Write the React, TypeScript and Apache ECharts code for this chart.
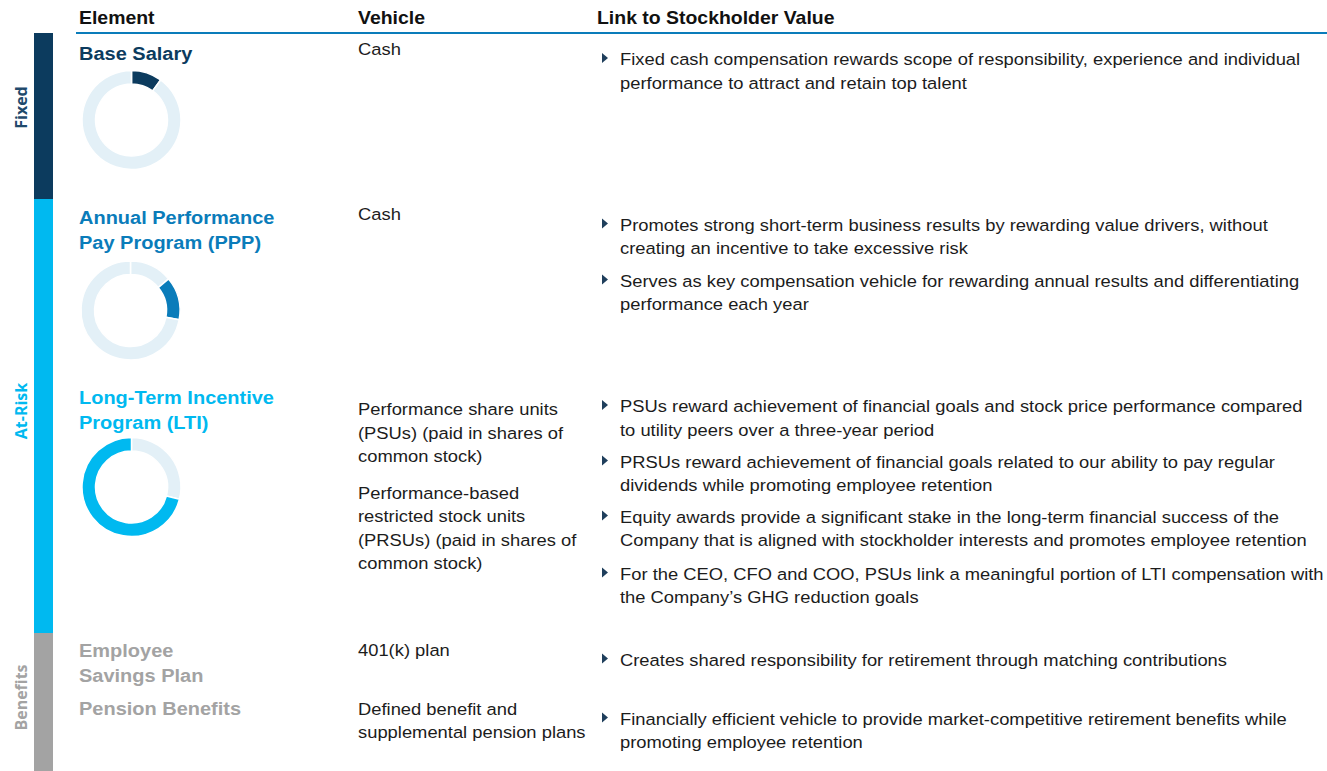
import React, { useEffect, useRef } from "react";
import * as echarts from "echarts";

// ---------- content ----------
const headers = ["Element", "Vehicle", "Link to Stockholder Value"];
const groupLabels = ["Fixed", "At-Risk", "Benefits"];

const elementNames = [
  ["Base Salary"],
  ["Annual Performance", "Pay Program (PPP)"],
  ["Long-Term Incentive", "Program (LTI)"],
  ["Employee", "Savings Plan"],
  ["Pension Benefits"],
];

const vehicles = [
  ["Cash"],
  ["Cash"],
  ["Performance share units", "(PSUs) (paid in shares of", "common stock)"],
  ["Performance-based", "restricted stock units", "(PRSUs) (paid in shares of", "common stock)"],
  ["401(k) plan"],
  ["Defined benefit and", "supplemental pension plans"],
];

const links = [
  ["Fixed cash compensation rewards scope of responsibility, experience and individual", "performance to attract and retain top talent"],
  ["Promotes strong short-term business results by rewarding value drivers, without", "creating an incentive to take excessive risk"],
  ["Serves as key compensation vehicle for rewarding annual results and differentiating", "performance each year"],
  ["PSUs reward achievement of financial goals and stock price performance compared", "to utility peers over a three-year period"],
  ["PRSUs reward achievement of financial goals related to our ability to pay regular", "dividends while promoting employee retention"],
  ["Equity awards provide a significant stake in the long-term financial success of the", "Company that is aligned with stockholder interests and promotes employee retention"],
  ["For the CEO, CFO and COO, PSUs link a meaningful portion of LTI compensation with", "the Company\u2019s GHG reduction goals"],
  ["Creates shared responsibility for retirement through matching contributions"],
  ["Financially efficient vehicle to provide market-competitive retirement benefits while", "promoting employee retention"],
];

// pay-mix donuts (percent of ring)
const baseSalaryMix = [10, 90]; // base salary, rest
const annualPppMix = [14, 14, 72]; // base, PPP, rest
const ltiMix = [29, 71]; // rest, LTI

// ---------- styles / layout ----------
const NAVY = "#0c3b5e";
const BLUE = "#0a7cba";
const CYAN = "#00b9f0";
const GRAY = "#a3a3a3";
const LIGHT = "#e3f0f7";
const TEXT = "#1c1c1c";
const BULLET = "#1f3f5c";
const FONT = "'Liberation Sans', Arial, sans-serif";
const SX = 1.08;

const elementColors = [NAVY, BLUE, CYAN, GRAY, GRAY];
const elementY = [53.5, 218, 398, 651, 709];
const vehicleY = [49, 214, 409.5, 493, 650, 709];
const linkY = [59.5, 225, 281, 406.5, 462, 517, 574, 660, 719];
const BODY_LH = 23.5;
const TITLE_LH = 24.5;

function txt(s: string, x: number, y: number, size: number, weight: string, color: string) {
  return {
    type: "text",
    x,
    y,
    scaleX: SX,
    silent: true,
    style: {
      text: s,
      fill: color,
      fontSize: size,
      fontWeight: weight,
      fontFamily: FONT,
      align: "left",
      textAlign: "left",
      verticalAlign: "middle",
      textVerticalAlign: "middle",
    },
  };
}

function buildGraphics() {
  const g: any[] = [];
  // side bars
  g.push({ type: "rect", silent: true, shape: { x: 34, y: 33, width: 19, height: 166 }, style: { fill: NAVY } });
  g.push({ type: "rect", silent: true, shape: { x: 34, y: 199, width: 19, height: 434 }, style: { fill: CYAN } });
  g.push({ type: "rect", silent: true, shape: { x: 34, y: 633, width: 19, height: 138 }, style: { fill: GRAY } });
  // group labels (rotated)
  const groupY = [107.5, 411, 697.5];
  const groupColors = ["#1f4a6c", CYAN, GRAY];
  groupLabels.forEach((s, i) => {
    g.push({
      type: "text",
      x: 21,
      y: groupY[i],
      rotation: Math.PI / 2,
      silent: true,
      style: {
        text: s,
        fill: groupColors[i],
        fontSize: 16,
        fontWeight: "bold",
        fontFamily: "'Open Sans', sans-serif",
        align: "center",
        textAlign: "center",
        verticalAlign: "middle",
        textVerticalAlign: "middle",
      },
    });
  });
  // header
  const headerX = [79, 358, 597];
  headers.forEach((h, i) => g.push(txt(h, headerX[i], 17.5, 18, "bold", "#111")));
  g.push({ type: "rect", silent: true, shape: { x: 76, y: 32, width: 1251, height: 2 }, style: { fill: BLUE } });
  // element names
  elementNames.forEach((lines, i) => {
    lines.forEach((s, j) => g.push(txt(s, 79, elementY[i] + j * TITLE_LH, 18.5, "bold", elementColors[i])));
  });
  // vehicles
  vehicles.forEach((lines, i) => {
    lines.forEach((s, j) => g.push(txt(s, 358, vehicleY[i] + j * BODY_LH, 17, "normal", TEXT)));
  });
  // links with bullets
  links.forEach((lines, i) => {
    g.push({
      type: "polygon",
      silent: true,
      x: 602,
      y: linkY[i] - 1.5,
      shape: { points: [[0, -5], [6, 0], [0, 5]] },
      style: { fill: BULLET },
    });
    lines.forEach((s, j) => g.push(txt(s, 620, linkY[i] + j * BODY_LH, 17, "normal", TEXT)));
  });
  return g;
}

function donut(center: number[], values: number[], colors: string[]) {
  return {
    type: "pie",
    center,
    radius: [36, 49.5],
    startAngle: 90,
    clockwise: true,
    silent: true,
    animation: false,
    label: { show: false },
    labelLine: { show: false },
    emphasis: { disabled: true },
    itemStyle: { borderColor: "#ffffff", borderWidth: 1.5 },
    data: values.map((v, i) => ({ value: v, itemStyle: { color: colors[i] } })),
  };
}

export default function App() {
  const ref = useRef<HTMLDivElement>(null);
  useEffect(() => {
    if (!ref.current) return;
    const chart = echarts.init(ref.current, null, { renderer: "svg" });
    chart.setOption({
      animation: false,
      backgroundColor: "#ffffff",
      tooltip: { show: false },
      graphic: { elements: buildGraphics() },
      series: [
        donut([131.5, 120], baseSalaryMix, [NAVY, LIGHT]),
        donut([130.5, 310.5], annualPppMix, [LIGHT, BLUE, LIGHT]),
        donut([131.5, 487], ltiMix, [LIGHT, CYAN]),
      ],
    });
    return () => chart.dispose();
  }, []);
  return (
    <div
      ref={ref}
      style={{ position: "absolute", left: 0, top: 0, width: 1327, height: 771, background: "#fff" }}
    />
  );
}
